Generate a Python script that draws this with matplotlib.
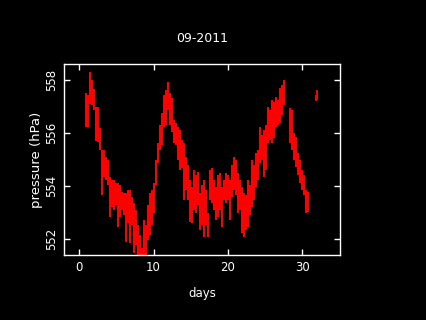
import matplotlib
matplotlib.use("Agg")
import matplotlib.pyplot as plt

# Day of month (column positions)
days = [0.90, 1.17, 1.44, 1.71, 1.98, 2.25, 2.52, 2.79, 3.06, 3.32, 3.59, 3.86, 4.13, 4.40, 4.67,
        4.94, 5.21, 5.48, 5.75, 6.02, 6.29, 6.55, 6.82, 7.09, 7.36, 7.63, 7.90, 8.17, 8.44, 8.71,
        8.98, 9.25, 9.52, 9.78, 10.05, 10.32, 10.59, 10.86, 11.13, 11.40, 11.67, 11.94, 12.21, 12.48,
        12.75, 13.02, 13.29, 13.55, 13.82, 14.09, 14.36, 14.63, 14.90, 15.17, 15.44, 15.71, 15.98,
        16.24, 16.51, 16.78, 17.05, 17.32, 17.59, 17.86, 18.13, 18.40, 18.67, 18.94, 19.21, 19.47,
        19.74, 20.01, 20.28, 20.55, 20.82, 21.09, 21.36, 21.63, 21.90, 22.17, 22.44, 22.70, 22.97,
        23.24, 23.51, 23.78, 24.05, 24.32, 24.59, 24.86, 25.13, 25.40, 25.67, 25.93, 26.20, 26.47,
        26.74, 27.01, 27.28, 27.55,
        28.36, 28.63, 28.90, 29.17, 29.44, 29.71, 29.98, 30.25, 30.52, 30.79,
        31.87, 32.00]

# Highest pressure reading in each column (hPa)
p_high = [557.52, 557.45, 558.31, 558.01, 557.67, 556.99, 556.99, 556.20, 555.37, 555.37, 555.11,
          554.99, 554.35, 554.24, 554.24, 554.12, 554.12, 554.05, 553.78, 553.75, 553.75, 553.86,
          553.86, 553.60, 553.37, 553.10, 552.54, 552.16, 551.67, 552.73, 552.54, 553.29, 553.75,
          553.86, 554.12, 554.99, 555.63, 556.31, 556.77, 557.45, 557.63, 557.94, 557.52, 557.33,
          556.50, 556.39, 556.24, 556.12, 555.75, 555.63, 555.11, 554.80, 554.24, 553.97, 554.62,
          554.43, 554.54, 553.75, 554.05, 554.24, 553.86, 552.99, 554.62, 554.69, 554.24, 553.97,
          554.43, 554.50, 553.97, 554.24, 554.50, 554.43, 554.24, 554.80, 555.11, 554.99, 554.50,
          554.24, 553.97, 553.75, 553.67, 554.24, 554.05, 554.99, 554.80, 555.26, 555.37, 556.24,
          555.94, 556.12, 556.31, 556.99, 556.88, 557.26, 557.18, 557.37, 557.26, 557.71, 557.82,
          558.01,
          556.95, 556.88, 556.01, 555.86, 555.26, 554.99, 554.62, 554.43, 553.86, 553.78,
          557.45, 557.63]

# Lowest pressure reading in each column (hPa)
p_low = [556.24, 556.24, 557.11, 557.07, 556.88, 555.71, 555.67, 555.37, 553.67, 554.35, 554.24,
         554.05, 552.84, 553.22, 553.10, 553.29, 552.46, 552.84, 553.10, 552.92, 551.90, 552.61,
         551.86, 552.54, 551.48, 551.78, 551.30, 551.30, 551.30, 551.30, 551.30, 551.97, 552.16,
         552.54, 552.99, 554.05, 554.88, 555.37, 555.56, 556.24, 556.31, 556.88, 556.31, 556.05,
         555.63, 555.56, 554.99, 554.62, 554.69, 553.49, 553.86, 553.49, 552.65, 552.61, 553.10,
         552.99, 553.29, 552.35, 552.54, 552.09, 552.54, 552.09, 553.49, 553.37, 553.10, 552.73,
         552.84, 553.10, 552.46, 553.49, 553.37, 553.49, 552.73, 553.60, 553.86, 553.67, 552.99,
         553.10, 552.24, 552.09, 552.35, 552.46, 552.92, 553.22, 553.49, 553.97, 554.24, 554.88,
         554.99, 554.35, 554.62, 555.63, 555.75, 555.63, 555.82, 556.24, 556.31, 556.39, 556.69,
         557.07,
         555.63, 555.37, 554.99, 554.73, 554.43, 554.12, 553.86, 553.67, 552.99, 553.03,
         557.22, 557.26]

title = "09-2011"
x_label = "days"
y_label = "pressure (hPa)"
x_ticks = [0, 10, 20, 30]
y_ticks = [552, 554, 556, 558]

fig = plt.figure(figsize=(4.26, 3.2), dpi=100, facecolor="black")
ax = fig.add_axes([0.1502, 0.2031, 0.6479, 0.5969], facecolor="black")

ax.vlines(days, p_low, p_high, colors="#ff0000", linewidth=1.15, antialiased=False)

ax.set_xlim(-2.05, 35.1)
ax.set_ylim(551.4, 558.62)
ax.set_xticks(x_ticks)
ax.set_yticks(y_ticks)

for s in ax.spines.values():
    s.set_color("white")
    s.set_linewidth(1.0)

ax.tick_params(axis="both", which="both", direction="in", colors="white",
               length=4, width=1, top=True, right=True, labelsize=8.5, pad=4)
for lab in ax.get_yticklabels():
    lab.set_rotation(90)
    lab.set_va("center")

ax.set_xlabel(x_label, color="white", fontsize=8.5, labelpad=10)
ax.set_ylabel(y_label, color="white", fontsize=9.5, labelpad=1.5)
ax.set_title(title, color="white", fontsize=9, pad=16)

fig.savefig("out.png", dpi=100, facecolor="black")
